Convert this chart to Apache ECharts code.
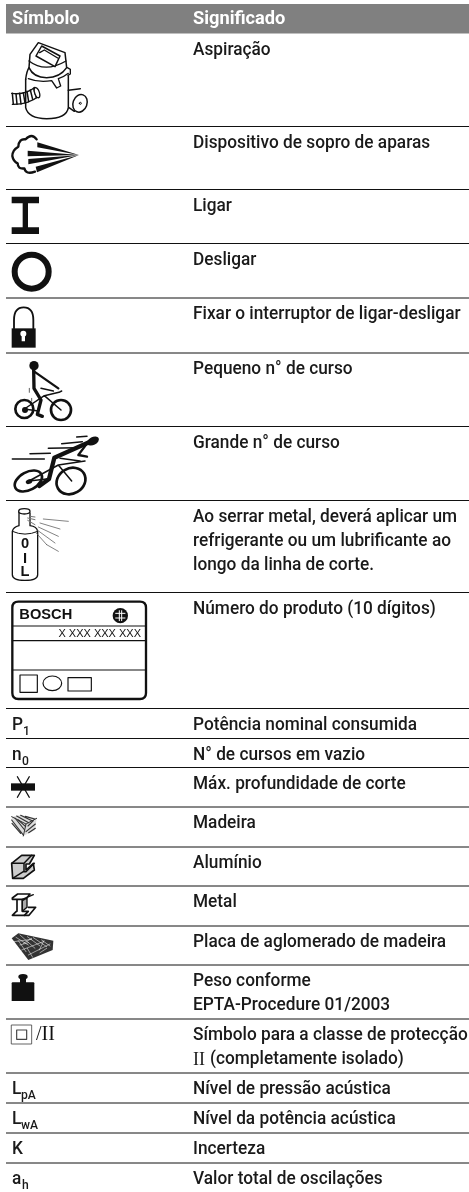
<!DOCTYPE html>
<html><head><meta charset="utf-8">
<style>html,body{margin:0;padding:0;background:#fff}#c{width:469px;height:1192px}</style>
<script src="https://cdn.jsdelivr.net/npm/echarts@6/dist/echarts.min.js"></script>
</head><body><div id="c"></div>
<script>
const headers = ['Símbolo', 'Significado'];
const rowEdges = [33.5,126.5,189.5,243.5,298,353,426.5,500.5,592.5,708.5,738.5,767.5,807,847,886,926,965,1019,1073,1103,1133,1163];
const meanings = [
 ['Aspiração'],['Dispositivo de sopro de aparas'],['Ligar'],['Desligar'],['Fixar o interruptor de ligar-desligar'],
 ['Pequeno n° de curso'],['Grande n° de curso'],
 ['Ao serrar metal, deverá aplicar um','refrigerante ou um lubrificante ao','longo da linha de corte.'],
 ['Número do produto (10 dígitos)'],['Potência nominal consumida'],['N° de cursos em vazio'],['Máx. profundidade de corte'],
 ['Madeira'],['Alumínio'],['Metal'],['Placa de aglomerado de madeira'],['Peso conforme','EPTA-Procedure 01/2003'],
 ['Símbolo para a classe de protecção','II (completamente isolado)'],['Nível de pressão acústica'],['Nível da potência acústica'],['Incerteza'],['Valor total de oscilações']
];
const textSymbols = {9:['P','1'],10:['n','0'],18:['L','pA'],19:['L','wA'],20:['K',''],21:['a','h']};
const FONT='Roboto', SX=0.933, SX_HEAD=0.985, LINE_H=24, BASE=23.5, COL1=12, COL2=193;

const P=(d,fill,stroke,lw)=>({type:'path',shape:{pathData:d},style:{fill:fill||'none',stroke:stroke||null,lineWidth:lw||0,lineCap:'round',lineJoin:'round'},silent:true});
const K='#111';
const circ=(cx,cy,rx,ry,rot)=>{ry=ry||rx;rot=rot||0;const a=rot*Math.PI/180,dx=rx*Math.cos(a),dy=rx*Math.sin(a);return `M${cx-dx} ${cy-dy}A${rx} ${ry} ${rot} 1 1 ${cx+dx} ${cy+dy}A${rx} ${ry} ${rot} 1 1 ${cx-dx} ${cy-dy}Z`;};
const T=(text,x,y,size,weight,align,family)=>({type:'text',x,y,style:{text,fill:K,fontFamily:family||'Liberation Sans',fontSize:size,fontWeight:weight||'normal',align:align||'left',verticalAlign:'middle'},silent:true});

const icons = {
 0:[5,36,[
   P('M62 130L62 215Q70 248 125 248Q185 248 190 215L190 120',null,K,4.5),
   P('M75 55L100 20L180 50L185 95Q165 125 125 125Q85 125 72 95Z','#fff',K,4.5),
   P('M62 130Q65 105 72 95',null,K,4.5),
   P('M72 75Q120 112 183 75M70 128Q100 140 140 134L155 156L167 150L160 128Q178 122 190 112',null,K,4),
   P('M93 60L110 30L165 60L150 92Z','#fff',K,4.5),P('M104 50L118 42L158 66',null,K,4),
   P('M187 95L196 100L196 114L189 118',null,K,4),
   P('M190 163L226 158M192 215L208 226',null,K,4.5),
   P(circ(225,202,21,27,20),'#fff',K,4.5),P(circ(226,202,3),null,K,3),P('M20 172Q60 178 90 154M22 205Q70 206 102 180',null,K,4),
   P('M22 172L25 205M33 173L36 205M44 172L48 204M55 170L60 201M66 166L71 197M76 162L83 190M86 157L94 185',null,K,4.5),
   P(circ(96,170,7,16,-20),'#fff',K,4)]],
 1:[5,130,[
   P('M95 28Q80 8 62 28Q42 25 40 50Q22 60 22 78Q25 95 38 100Q38 118 58 115Q62 135 90 125',null,K,7),
   P('M97 37L222 75L97 52Z',K),P('M68 62L222 75L68 79Z',K),P('M70 87L222 75L70 103Z',K),P('M92 110L222 75L96 127Z',K)]],
 2:[0,0,[P('M35 590H117V610H84V682H117V702H35V682H68V610H35Z',K)]],
 3:[0,0,[P(circ(95,815,51),null,K,18)]],
 4:[0,300,[P('M35 85H107V143H35Z',K),P('M42 85L42 60Q42 22 71 22Q100 22 100 60L100 85',null,K,5.5),
   P(circ(70,101,9)+'M65 105H75V124H65Z','#fff')]],
 5:[5,355,[P(circ(87,32,14),K),P('M86 45L87 100L108 135L97 178L112 184',null,K,10),P('M88 50L160 100',null,K,7),
   P(circ(58,162,27),null,K,8),P(circ(168,165,30),null,K,8),
   P('M58 162L118 122L168 165M118 122L162 112L170 108M58 162L100 168M108 100L145 108',null,K,4.5),P(circ(60,165,9),K),
   P('M73 100V112M80 130V138',null,K,2)]],
 6:[5,355,[P(circ(264,258,19,12,-28),K),
   P('M252 262L148 308L132 372L103 393',null,K,13),P('M244 268L220 300L246 305',null,K,7),
   P('M215 246L246 244M170 266L232 260M130 280L214 278M75 296L136 295M22 312L118 312',null,K,4.5),
   P(circ(70,378,44,27,-28),null,K,8),P(circ(198,378,45,38,-30),null,K,8),
   P('M72 378L160 330L200 378M160 330L240 318M72 378L125 372M165 310L225 318',null,K,4.5),P(circ(72,380,10,7,-20),K)]],
 7:[5,503,[P('M22 85L22 215Q22 232 60 232Q98 232 98 215L98 85Q95 70 75 68L75 30M42 25L42 68Q25 72 22 85',null,K,4),
   P('M22 85Q60 102 98 85',null,K,3),P(circ(58,25,17,8),'#fff',K,4),
   P('M115 48L190 55M105 60L165 78M100 72L160 100M95 80L150 120M92 88L125 125M125 125L160 145',null,'#555',2.2),
   P('M68 45L90 50M68 52L90 65M75 40L90 42',null,'#777',3),
   T('0',60,122,44,'bold','center'),T('I',60,167,44,'bold','center'),T('L',60,208,44,'bold','center')]],
 8:[0,600,[P('M55 5H420Q438 5 438 23V279Q438 297 420 297H55Q37 297 37 279V23Q37 5 55 5Z',null,K,7),
   P('M37 78H438M37 122H438M37 210H438',null,K,3.5),T('BOSCH',58,45,44,'bold'),
   P(circ(361,47,23),K),P('M347 40H375M347 54H375M358 32V62M365 32V62',null,'#fff',3),
   T('X XXX XXX XXX',423,103,33,'normal','right'),
   P('M60 225H112V277H60Z',null,K,3.5),P(circ(157,250,28,22),null,K,3.5),P('M204 233H274V273H204Z',null,K,3.5)]],
 11:[0,600,[P('M33 550H105V572H33Z',K),P('M52 530L88 592M88 530L52 592',null,K,3.5)]],
 12:[0,600,[P('M35 650L62 645L110 655L105 690L70 708L38 672Z','#ddd'),
   P('M35 650L78 672L70 708M78 672L110 655',null,'#333',3),
   P('M35 660L70 705M36 670L62 700M45 654L74 690M55 660L77 680M50 648L86 668M62 646L96 662M76 649L104 657M84 678L100 662M78 695L106 672M86 698L106 685',null,'#333',3.5)]],
 13:[0,600,[P('M35 790L65 766H103L88 792H78V810L100 790L103 810L70 835H38Z','#ccc',K,5),
   P('M35 790H72V815H78L103 790M72 790L95 766M38 835L70 815',null,K,4.5)]],
 14:[5,888,[P('M22 30L38 18H75L62 34H22ZM36 34H52V70H70L58 82H22L34 70H36Z','#fff',K,5),P('M52 34L85 20M52 38L66 30V58L52 70Z','#aaa',K,4),
   P('M70 58H92L72 82H58',null,K,5)]],
 15:[0,900,[P('M35 115L55 100L160 122L158 150L85 180Z','#333'),
   P('M48 112L85 135M60 105L105 145M82 110L120 138M100 113L140 140M125 120L150 138M42 125L95 118M65 150L130 125M85 165L150 132M95 115L70 130M118 150L132 122M55 122L78 155M82 145L98 172M140 145L120 158M60 135L85 128',null,'#fff',1.6)]],
 16:[0,900,[P(circ(69,230,14,8),K),P('M60 235H78V250H60Z',K),P('M38 247H100Q103 247 103 250V303H35V250Q35 247 38 247Z',K)]],
 17:[0,900,[P('M35 375H95V432H35Z',null,'#444',2.5),P('M50 390H80V418H50Z',null,'#444',3.5),
   T('/II',108,405,60,'normal','left','Liberation Serif')]]
};

function textEl(text,x,baseY,size,weight,family,color,sx){
  return {type:'text',x,y:baseY-size*0.36,scaleX:sx==null?SX:sx,style:{text,fill:color||'#1a1a1a',fontFamily:family||FONT,fontSize:size,fontWeight:weight||500,align:'left',verticalAlign:'middle'},silent:true};
}
function renderHeader(p,api){
  const a=api.coord([6,4]),b=api.coord([469,33.5]);
  return {type:'group',children:[
    {type:'rect',shape:{x:a[0],y:a[1],width:b[0]-a[0],height:b[1]-a[1]},style:{fill:'#808080'},silent:true},
    textEl(headers[0],api.coord([COL1,0])[0],api.coord([0,26])[1],18.5,'bold',FONT,'#fff',SX_HEAD),
    textEl(headers[1],api.coord([COL2,0])[0],api.coord([0,26])[1],18.5,'bold',FONT,'#fff',SX_HEAD)]};
}
function renderRow(p,api){
  const i=api.value(0), top=rowEdges[i], kids=[];
  const xc=api.coord([COL2,0])[0];
  meanings[i].forEach((ln,k)=>{
    const y=api.coord([0,top+BASE+k*LINE_H])[1];
    if(ln.indexOf('II ')===0){
      kids.push(textEl('II',xc,y,18,'normal','Liberation Serif','#1a1a1a',1));
      kids.push(textEl(ln.slice(3),xc+17,y,18.5));
    } else kids.push(textEl(ln,xc,y,18.5));
  });
  const s=textSymbols[i];
  if(s){
    const x0=api.coord([COL1,0])[0], y=api.coord([0,top+BASE])[1];
    kids.push(textEl(s[0],x0,y,18.5));
    if(s[1]) kids.push(textEl(s[1],x0+(s[0]==='P'?11:s[0]==='L'?9:10),y+4,13));
  }
  const ic=icons[i];
  if(ic){
    const o=api.coord([ic[0],ic[1]]);
    kids.push({type:'group',x:o[0],y:o[1],scaleX:1/3,scaleY:1/3,children:ic[2]});
  }
  if(i<meanings.length-1){
    const a=api.coord([6,rowEdges[i+1]]),b=api.coord([469,rowEdges[i+1]]);
    kids.push({type:'line',shape:{x1:a[0],y1:a[1],x2:b[0],y2:b[1]},style:{stroke:'#111',lineWidth:1},silent:true});
  }
  return {type:'group',children:kids};
}
const chart=echarts.init(document.getElementById('c'),null,{renderer:'canvas'});
chart.setOption({
  animation:false,backgroundColor:'#fff',
  grid:{left:0,right:0,top:0,bottom:0},
  xAxis:{type:'value',min:0,max:469,show:false},
  yAxis:{type:'value',min:0,max:1192,inverse:true,show:false},
  series:[
   {type:'custom',coordinateSystem:'cartesian2d',renderItem:renderHeader,data:[[0,0]],silent:true},
   {type:'custom',coordinateSystem:'cartesian2d',renderItem:renderRow,data:meanings.map((m,i)=>[i,rowEdges[i]]),encode:{x:0,y:1},silent:true,clip:false}
  ]
});
</script></body></html>
